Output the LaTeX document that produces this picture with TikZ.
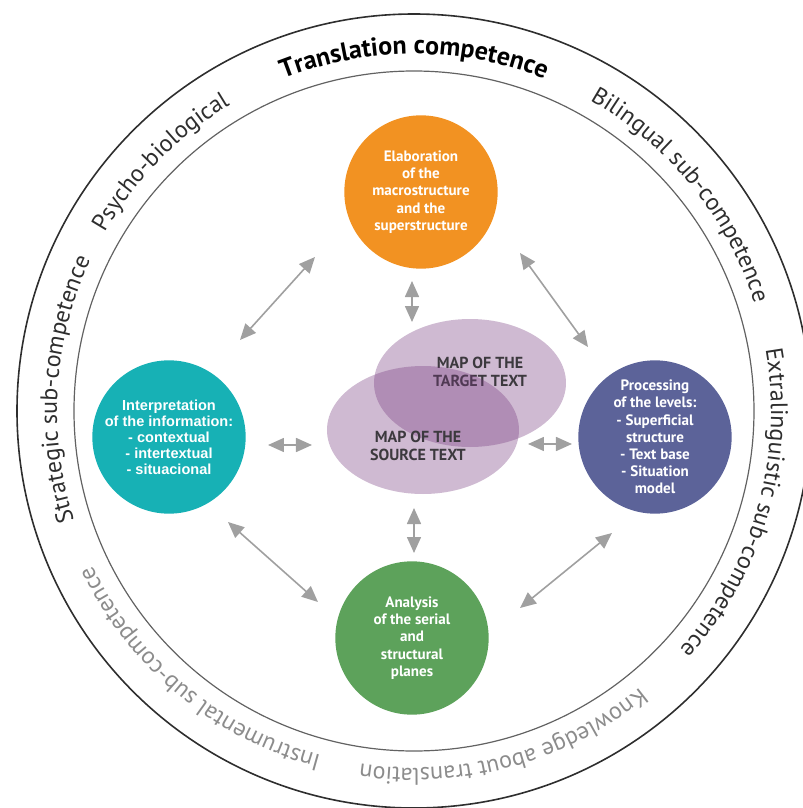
\documentclass[tikz,border=0pt]{standalone}
\usepackage{fontspec}
\usepackage{tikz}
\usetikzlibrary{arrows.meta,decorations.text,shapes.geometric}

\newfontfamily\ptsans{PT Sans}
\newfontfamily\arialsans{Liberation Sans}

\definecolor{elabOrange}{HTML}{F29222}
\definecolor{interpTeal}{HTML}{17B1B5}
\definecolor{procBlue}{HTML}{5C6399}
\definecolor{analGreen}{HTML}{5DA25B}
\definecolor{mapPurple}{HTML}{763A7E}
\definecolor{mapText}{HTML}{3C393E}
\definecolor{arrowGray}{HTML}{A0A0A0}
\definecolor{ringDark}{HTML}{2E2E2E}
\definecolor{ringLight}{HTML}{8C8C8C}

% text on the ring, centred on an angle
\newcommand{\ringlabel}[3]{%
  \path[decorate, decoration={text along path, text align=center,
      text={|#2|#3}}]
    (#1+60:357) arc[start angle=#1+60, end angle=#1-60, radius=357];}

\tikzset{
  bubble/.style={circle, minimum size=115pt, inner sep=0pt, text=white, align=center,
    font=\ptsans\bfseries\fontsize{11.3}{12.9}\selectfont},
  mapellipse/.style={ellipse, minimum width=144pt, minimum height=96pt, inner sep=0pt,
    fill=mapPurple, fill opacity=0.35},
  maplabel/.style={text=mapText, align=center, font=\ptsans\bfseries\fontsize{12}{13.8}\selectfont},
  biarrow/.style={arrowGray, line width=1.2pt,
    {Triangle[length=12pt,width=10.5pt]}-{Triangle[length=12pt,width=10.5pt]}},
}

\begin{document}
\begin{tikzpicture}[x=0.75pt, y=0.75pt]
    \useasboundingbox (-414,-397) rectangle (389,411);
    \clip (-414,-397) rectangle (389,411);

    % the two rings
    \draw[ringDark, line width=1.2pt] (0,0) circle[radius=397];
    \draw[ringDark!75, line width=0.9pt] (0,0) circle[radius=340];

    \ringlabel{90}{\ptsans\bfseries\fontsize{19.5}{21}\selectfont\color{black}}{Translation competence}
    \ringlabel{135.5}{\ptsans\fontsize{18}{20}\selectfont\color{ringDark}}{Psycho-biological}
    \ringlabel{39}{\ptsans\fontsize{18}{20}\selectfont\color{ringDark}}{Bilingual sub-competence}
    \ringlabel{-16}{\ptsans\fontsize{18}{20}\selectfont\color{ringDark}}{Extralinguistic sub-competence}
    \ringlabel{-74.7}{\ptsans\fontsize{18}{20}\selectfont\color{ringLight}}{Knowledge about translation}
    \ringlabel{-129.7}{\ptsans\fontsize{18}{20}\selectfont\color{ringLight}}{Instrumental sub-competence}
    \ringlabel{176.4}{\ptsans\fontsize{18}{20}\selectfont\color{ringDark}}{Strategic sub-competence}

    % the four stages
    \node[bubble, fill=elabOrange] (elab) at (7,219)
        {Elaboration\\of the\\macrostructure\\and the\\superstructure};
    \node[bubble, fill=interpTeal, font=\arialsans\bfseries\fontsize{10.9}{12}\selectfont] (interp) at (-245,-26)
        {Interpretation\\of the information:\\- contextual\\- intertextual\\- situacional};
    \node[bubble, fill=procBlue] (proc) at (241,-26)
        {Processing\\of the levels:\\- Superficial\\structure\\- Text base\\- Situation\\model};
    \node[bubble, fill=analGreen] (anal) at (-2,-227)
        {Analysis\\of the serial\\and\\structural\\planes};

    % the two maps
    \node[mapellipse] (target) at (56,28) {};
    \node[maplabel] (targetlbl) at (66,39) {MAP OF THE\\TARGET TEXT};
    \node[mapellipse] (source) at (9,-19) {};
    \node[maplabel] (sourcelbl) at (4,-35) {MAP OF THE\\SOURCE TEXT};

    % arrow ends
    \coordinate (a1s) at (-174,71);   \coordinate (a1e) at (-99,154);
    \coordinate (a2s) at (-2,130);    \coordinate (a2e) at (-2,89);
    \coordinate (a3s) at (106,158);   \coordinate (a3e) at (174,64);
    \coordinate (a4s) at (-146,-34);  \coordinate (a4e) at (-102,-34);
    \coordinate (a5s) at (114,-33);   \coordinate (a5e) at (158,-33);
    \coordinate (a6s) at (0,-97);     \coordinate (a6e) at (0,-142);
    \coordinate (a7s) at (-186,-111); \coordinate (a7e) at (-96,-191);
    \coordinate (a8s) at (198,-122);  \coordinate (a8e) at (106,-197);
    \foreach \i in {1,...,8}
        \draw[biarrow] (a\i s) -- (a\i e);
\end{tikzpicture}
\end{document}
